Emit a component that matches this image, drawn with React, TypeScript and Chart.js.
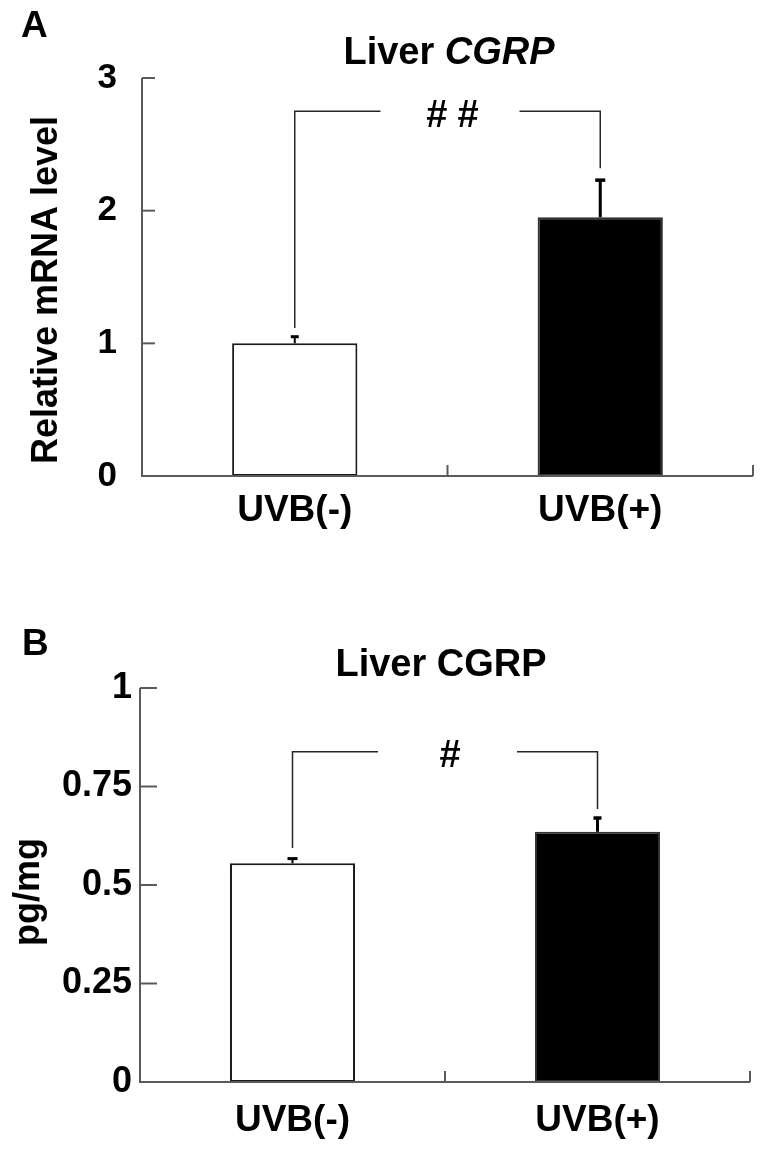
import React, { useEffect, useRef } from 'react';
import { Chart, registerables } from 'chart.js';

Chart.register(...registerables);

// ---------- data ----------
const categories = ['UVB(-)', 'UVB(+)'];

// Panel A: liver CGRP mRNA (relative level)
const mrnaMeans = [1.0, 1.95];
const mrnaErrors = [0.05, 0.28];
const mrnaTickLabels = ['0', '1', '2', '3'];
const mrnaBracket = [1.115, 2.75, 2.32]; // left foot, top, right foot
const mrnaSignificance = '##';

// Panel B: liver CGRP protein (pg/mg)
const proteinMeans = [0.555, 0.635];
const proteinErrors = [0.012, 0.035];
const proteinTickLabels = ['0', '0.25', '0.5', '0.75', '1'];
const proteinBracket = [0.594, 0.838, 0.693];
const proteinSignificance = '#';

const barFills = ['#ffffff', '#000000'];
const barBorders = ['#1a1a1a', '#333333'];

const FONT = '"Liberation Sans", Arial, Helvetica, sans-serif';

type Spec = {
  id: string;
  width: number;
  height: number;
  area: { left: number; top: number; right: number; bottom: number };
  yMax: number;
  yStep: number;
  tickLabels: string[];
  means: number[];
  errors: number[];
  bracket: number[];
  sig: string;
  sigSpacing: number;
  letter: string;
  letterPos: [number, number];
  title: { text: string; italic: boolean }[];
  titleCenter: [number, number];
  yTitle: string;
  yTitlePos: [number, number];
  yTickLen: number;
  xTickLen: number;
  yTickPad: number;
  xTickPad: number;
  yTickFont: number;
  xTickFont: number;
  errLine: number[];
  errCap: number[];
  capThick: number[];
};

const panelA: Spec = {
  id: 'A',
  width: 764,
  height: 565,
  area: { left: 142, top: 78, right: 753, bottom: 476 },
  yMax: 3,
  yStep: 1,
  tickLabels: mrnaTickLabels,
  means: mrnaMeans,
  errors: mrnaErrors,
  bracket: mrnaBracket,
  sig: mrnaSignificance,
  sigSpacing: 10,
  letter: 'A',
  letterPos: [21, 37],
  title: [
    { text: 'Liver ', italic: false },
    { text: 'CGRP', italic: true },
  ],
  titleCenter: [449, 64],
  yTitle: 'Relative mRNA level',
  yTitlePos: [47, 290],
  yTickLen: 13,
  xTickLen: 11,
  yTickPad: 25,
  xTickPad: 13,
  yTickFont: 35,
  xTickFont: 37,
  errLine: [2, 3],
  errCap: [4, 5],
  capThick: [3, 3.5],
};

const panelB: Spec = {
  id: 'B',
  width: 764,
  height: 586,
  area: { left: 140, top: 123, right: 750, bottom: 517 },
  yMax: 1,
  yStep: 0.25,
  tickLabels: proteinTickLabels,
  means: proteinMeans,
  errors: proteinErrors,
  bracket: proteinBracket,
  sig: proteinSignificance,
  sigSpacing: 0,
  letter: 'B',
  letterPos: [22, 90],
  title: [{ text: 'Liver CGRP', italic: false }],
  titleCenter: [441, 111],
  yTitle: 'pg/mg',
  yTitlePos: [29, 327],
  yTickLen: 17,
  xTickLen: 11,
  yTickPad: 8,
  xTickPad: 17,
  yTickFont: 36,
  xTickFont: 37,
  errLine: [2, 3],
  errCap: [5, 4],
  capThick: [3, 3.5],
};

function seg(ctx: CanvasRenderingContext2D, x1: number, y1: number, x2: number, y2: number) {
  ctx.beginPath();
  ctx.moveTo(x1, y1);
  ctx.lineTo(x2, y2);
  ctx.stroke();
}

function makeDecor(spec: Spec) {
  return {
    id: 'decor' + spec.id,
    afterDatasetsDraw(chart: any) {
      const { ctx, chartArea: a } = chart;
      const xs = chart.scales.x;
      const ys = chart.scales.y;
      const y0 = ys.getPixelForValue(0);
      const yTop = ys.getPixelForValue(spec.yMax);
      ctx.save();
      ctx.lineCap = 'butt';
      // axes
      ctx.strokeStyle = '#5a5a5a';
      ctx.lineWidth = 2;
      ctx.beginPath();
      ctx.moveTo(a.left, yTop);
      ctx.lineTo(a.left, y0);
      ctx.lineTo(a.right, y0);
      ctx.stroke();
      // inward y ticks
      ys.ticks.forEach((t: any) => {
        const p = ys.getPixelForValue(t.value);
        seg(ctx, a.left, p, a.left + spec.yTickLen, p);
      });
      // upward x ticks at category boundaries
      for (let i = 0; i < categories.length; i++) {
        const px = xs.getPixelForValue(i + 0.5);
        seg(ctx, px, y0, px, y0 - spec.xTickLen);
      }
      // error bars
      const meta = chart.getDatasetMeta(0);
      meta.data.forEach((bar: any, i: number) => {
        const base = ys.getPixelForValue(spec.means[i]);
        const top = ys.getPixelForValue(spec.means[i] + spec.errors[i]);
        ctx.strokeStyle = '#000';
        ctx.lineWidth = spec.errLine[i];
        seg(ctx, bar.x, base, bar.x, top);
        ctx.lineWidth = spec.capThick[i];
        seg(ctx, bar.x - spec.errCap[i], top, bar.x + spec.errCap[i], top);
      });
      // significance bracket
      const [lf, tp, rf] = spec.bracket;
      const xL = meta.data[0].x;
      const xR = meta.data[1].x;
      const yB = ys.getPixelForValue(tp);
      const cx = (xL + xR) / 2 + 5;
      ctx.strokeStyle = '#262626';
      ctx.lineWidth = 1.5;
      ctx.beginPath();
      ctx.moveTo(xL, ys.getPixelForValue(lf));
      ctx.lineTo(xL, yB);
      ctx.lineTo(cx - 72, yB);
      ctx.stroke();
      ctx.beginPath();
      ctx.moveTo(cx + 67, yB);
      ctx.lineTo(xR, yB);
      ctx.lineTo(xR, ys.getPixelForValue(rf));
      ctx.stroke();
      // significance label
      ctx.fillStyle = '#000';
      ctx.font = `bold 38px ${FONT}`;
      ctx.textBaseline = 'middle';
      ctx.textAlign = 'left';
      (ctx as any).letterSpacing = spec.sigSpacing + 'px';
      const w = ctx.measureText(spec.sig).width - spec.sigSpacing;
      ctx.fillText(spec.sig, cx - w / 2, yB + 5);
      (ctx as any).letterSpacing = '0px';
      ctx.restore();
    },
    afterDraw(chart: any) {
      const { ctx } = chart;
      ctx.save();
      ctx.fillStyle = '#000';
      ctx.textBaseline = 'alphabetic';
      ctx.textAlign = 'left';
      // panel letter
      ctx.font = `bold 37px ${FONT}`;
      ctx.fillText(spec.letter, spec.letterPos[0], spec.letterPos[1]);
      // title with mixed styles
      const fonts = spec.title.map((p) => `${p.italic ? 'italic ' : ''}bold 38px ${FONT}`);
      let total = 0;
      const widths = spec.title.map((p, i) => {
        ctx.font = fonts[i];
        const w = ctx.measureText(p.text).width;
        total += w;
        return w;
      });
      let x = spec.titleCenter[0] - total / 2;
      spec.title.forEach((p, i) => {
        ctx.font = fonts[i];
        ctx.fillText(p.text, x, spec.titleCenter[1]);
        x += widths[i];
      });
      // y axis title
      ctx.translate(spec.yTitlePos[0], spec.yTitlePos[1]);
      ctx.rotate(-Math.PI / 2);
      ctx.font = `bold 36px ${FONT}`;
      ctx.textAlign = 'center';
      ctx.textBaseline = 'middle';
      ctx.fillText(spec.yTitle, 0, 0);
      ctx.restore();
    },
  };
}

function buildChart(canvas: HTMLCanvasElement, spec: Spec) {
  return new Chart(canvas, {
    type: 'bar',
    data: {
      labels: categories,
      datasets: [
        {
          data: spec.means,
          backgroundColor: barFills,
          borderColor: barBorders,
          borderWidth: 2,
          borderSkipped: false,
          barPercentage: 0.41,
          categoryPercentage: 1,
        },
      ],
    },
    options: {
      responsive: false,
      animation: false,
      devicePixelRatio: 1,
      layout: {
        padding: { top: spec.area.top, right: spec.width - spec.area.right, bottom: 0, left: 0 },
      },
      plugins: {
        legend: { display: false },
        tooltip: { enabled: false },
        title: { display: false },
      },
      scales: {
        x: {
          type: 'category',
          offset: true,
          grid: { display: false, drawTicks: false },
          border: { display: false },
          ticks: {
            color: '#000',
            font: { family: FONT, size: spec.xTickFont, weight: 'bold' },
            padding: spec.xTickPad,
            maxRotation: 0,
            autoSkip: false,
          },
          afterFit: (s: any) => {
            s.height = spec.height - spec.area.bottom;
          },
        },
        y: {
          type: 'linear',
          min: 0,
          max: spec.yMax,
          grid: { display: false, drawTicks: false },
          border: { display: false },
          ticks: {
            stepSize: spec.yStep,
            color: '#000',
            font: { family: FONT, size: spec.yTickFont, weight: 'bold' },
            padding: spec.yTickPad,
            callback: (_v: any, i: number) => spec.tickLabels[i],
          },
          afterFit: (s: any) => {
            s.width = spec.area.left;
          },
        },
      },
    } as any,
    plugins: [makeDecor(spec)],
  });
}

export default function App() {
  const refA = useRef<HTMLCanvasElement>(null);
  const refB = useRef<HTMLCanvasElement>(null);

  useEffect(() => {
    const cA = buildChart(refA.current!, panelA);
    const cB = buildChart(refB.current!, panelB);
    return () => {
      cA.destroy();
      cB.destroy();
    };
  }, []);

  return (
    <div style={{ position: 'absolute', left: 0, top: 0, width: 764, height: 1151, background: '#fff' }}>
      <canvas
        ref={refA}
        width={panelA.width}
        height={panelA.height}
        style={{ position: 'absolute', left: 0, top: 0, width: panelA.width, height: panelA.height }}
      />
      <canvas
        ref={refB}
        width={panelB.width}
        height={panelB.height}
        style={{ position: 'absolute', left: 0, top: panelA.height, width: panelB.width, height: panelB.height }}
      />
    </div>
  );
}
